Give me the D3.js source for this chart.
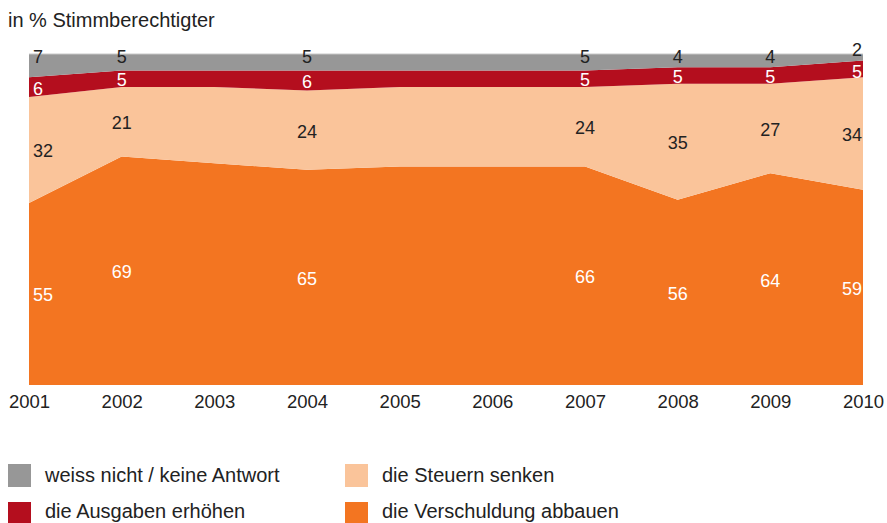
<!DOCTYPE html>
<html>
<head>
<meta charset="utf-8">
<script src="https://cdn.jsdelivr.net/npm/d3@7"></script>
<style>
  body { margin: 0; background: #fff; }
  svg text { font-family: "Liberation Sans", Arial, sans-serif; }
</style>
</head>
<body>
<svg id="chart" width="887" height="523"></svg>
<script>
// data (percent of voters)
const years = [2001, 2002, 2003, 2004, 2005, 2006, 2007, 2008, 2009, 2010];
const schuldenAbbauen = [55, 69, 67, 65, 66, 66, 66, 56, 64, 59];
const steuernSenken   = [32, 21, 23, 24, 24, 24, 24, 35, 27, 34];
const ausgabenErhoehen = [6, 5, 5, 6, 5, 5, 5, 5, 5, 5];
const weissNicht      = [7, 5, 5, 5, 5, 5, 5, 4, 4, 2];
// years that carry value labels
const labelYears = [2001, 2002, 2004, 2007, 2008, 2009, 2010];

const seriesKeys = ['abbauen', 'senken', 'erhoehen', 'weissnicht'];
const seriesNames = {
  weissnicht: 'weiss nicht / keine Antwort',
  erhoehen: 'die Ausgaben erhöhen',
  senken: 'die Steuern senken',
  abbauen: 'die Verschuldung abbauen'
};
const colors = {
  weissnicht: '#979797',
  erhoehen: '#b40e1e',
  senken: '#fac49a',
  abbauen: '#f37521'
};
const labelColors = { weissnicht: '#222', erhoehen: '#fff', senken: '#222', abbauen: '#fff' };

const rows = years.map((yr, i) => ({
  year: yr,
  abbauen: schuldenAbbauen[i],
  senken: steuernSenken[i],
  erhoehen: ausgabenErhoehen[i],
  weissnicht: weissNicht[i]
}));

const svg = d3.select('#chart');
const plotLeft = 29, plotRight = 863, plotTop = 54, plotBottom = 385;

const x = d3.scaleLinear().domain([2001, 2010]).range([plotLeft, plotRight]);
const y = d3.scaleLinear().domain([0, 100]).range([plotBottom, plotTop]);

const stacked = d3.stack().keys(seriesKeys)(rows);

const area = d3.area()
  .x(d => x(d.data.year))
  .y0(d => y(d[0]))
  .y1(d => y(d[1]));

svg.append('g').selectAll('path')
  .data(stacked).enter()
  .append('path')
  .attr('d', area)
  .attr('fill', d => colors[d.key]);

// thin light line on top of the grey band
svg.append('line')
  .attr('x1', plotLeft).attr('x2', plotRight)
  .attr('y1', y(100)).attr('y2', y(100))
  .attr('stroke', '#c8c8c8').attr('stroke-width', 1);

// value labels
const labelG = svg.append('g').attr('font-size', 18);
stacked.forEach(layer => {
  layer.forEach(d => {
    if (labelYears.indexOf(d.data.year) < 0) return;
    let px = x(d.data.year), anchor = 'middle';
    if (d.data.year === 2001) { px = plotLeft + 4; anchor = 'start'; }
    if (d.data.year === 2010) { px = plotRight - 1; anchor = 'end'; }
    let py = (y(d[0]) + y(d[1])) / 2 + 1;
    if (layer.key === 'weissnicht') {
      // thin grey band: lift the label above the top edge
      py = (y(d[0]) - y(d[1]) < 10) ? y(100) - 4 : y(100) + 3;
    }
    if (layer.key === 'erhoehen' && d.data.weissnicht < 3) py += 1.5;
    labelG.append('text')
      .attr('x', px).attr('y', py)
      .attr('dy', '0.36em')
      .attr('text-anchor', anchor)
      .attr('fill', labelColors[layer.key])
      .text(d.data[layer.key]);
  });
});

// x axis labels
const xAxis = d3.axisBottom(x)
  .tickValues(years)
  .tickFormat(d3.format('d'))
  .tickSize(0)
  .tickPadding(10);
const axisG = svg.append('g')
  .attr('transform', 'translate(0,' + plotBottom + ')')
  .call(xAxis);
axisG.select('.domain').remove();
axisG.selectAll('text')
  .attr('font-size', 18.5)
  .attr('fill', '#222')
  .style('font-family', '"Liberation Sans", Arial, sans-serif');

// title
svg.append('text')
  .attr('x', 8).attr('y', 27)
  .attr('font-size', 20)
  .attr('fill', '#222')
  .text('in % Stimmberechtigter');

// legend
const legendItems = [
  { key: 'weissnicht', col: 0, row: 0 },
  { key: 'senken', col: 1, row: 0 },
  { key: 'erhoehen', col: 0, row: 1 },
  { key: 'abbauen', col: 1, row: 1 }
];
const legend = svg.append('g');
legendItems.forEach(it => {
  const lx = 8 + it.col * 337;
  const ly = 464 + it.row * 38;
  legend.append('rect')
    .attr('x', lx).attr('y', ly)
    .attr('width', 23).attr('height', 23)
    .attr('fill', colors[it.key]);
  legend.append('text')
    .attr('x', lx + 37).attr('y', ly + 11 - it.row * 2)
    .attr('dy', '0.36em')
    .attr('font-size', 20)
    .attr('fill', '#222')
    .text(seriesNames[it.key]);
});
</script>
</body>
</html>
